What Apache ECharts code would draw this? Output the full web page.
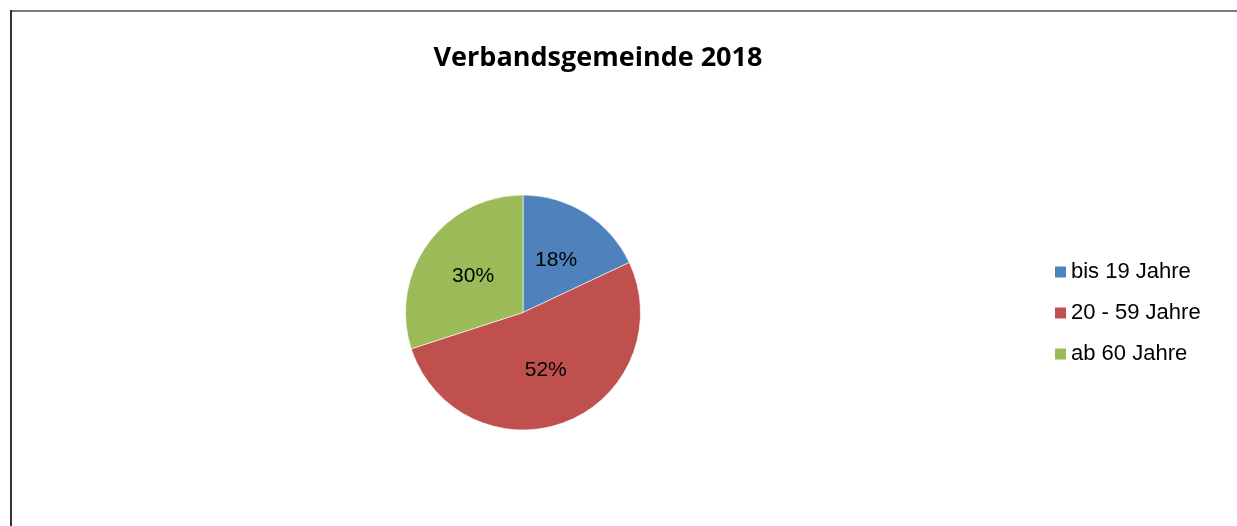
<!DOCTYPE html>
<html>
<head>
<meta charset="utf-8">
<script src="https://cdn.jsdelivr.net/npm/echarts@6/dist/echarts.min.js"></script>
<style>
  html, body { margin: 0; padding: 0; background: #fff; }
  #chart { width: 1237px; height: 526px; }
</style>
</head>
<body>
<div id="chart"></div>
<script>
// Altersgruppen, Anteile in Prozent
let categories = ['bis 19 Jahre', '20 - 59 Jahre', 'ab 60 Jahre'];
let shares = [18, 52, 30];
let colors = ['#4F81BD', '#C0504D', '#9BBB59'];

let chart = echarts.init(document.getElementById('chart'));

let pieData = [];
categories.forEach((name, i) => {
  pieData.push({ name: name, value: shares[i], itemStyle: { color: colors[i] } });
});

chart.setOption({
  animation: false,
  title: {
    text: 'Verbandsgemeinde 2018',
    left: 593,
    top: 40,
    textAlign: 'center',
    textStyle: {
      fontFamily: 'Open Sans',
      fontWeight: 'bold',
      fontSize: 27,
      color: '#000'
    }
  },
  legend: {
    orient: 'vertical',
    left: 1055,
    top: 261,
    padding: 0,
    itemWidth: 11,
    itemHeight: 11,
    itemGap: 19,
    icon: 'rect',
    itemStyle: { borderWidth: 0 },
    textStyle: {
      fontFamily: 'Liberation Sans',
      fontSize: 22,
      color: '#000'
    },
    data: categories
  },
  graphic: [
    { type: 'line', shape: { x1: 10.5, y1: 11, x2: 1237, y2: 11 }, style: { stroke: '#7a7a7a', lineWidth: 2 } },
    { type: 'line', shape: { x1: 11, y1: 10, x2: 11, y2: 526 }, style: { stroke: '#333', lineWidth: 2 } }
  ],
  series: [{
    type: 'pie',
    center: [523, 312.5],
    radius: 117.5,
    startAngle: 90,
    clockwise: true,
    silent: true,
    itemStyle: { borderColor: '#fff', borderWidth: 0.6 },
    label: {
      position: 'inside',
      formatter: '{c}%',
      fontFamily: 'Liberation Sans',
      fontSize: 21,
      color: '#000'
    },
    labelLine: { show: false },
    data: pieData
  }]
});
</script>
</body>
</html>
